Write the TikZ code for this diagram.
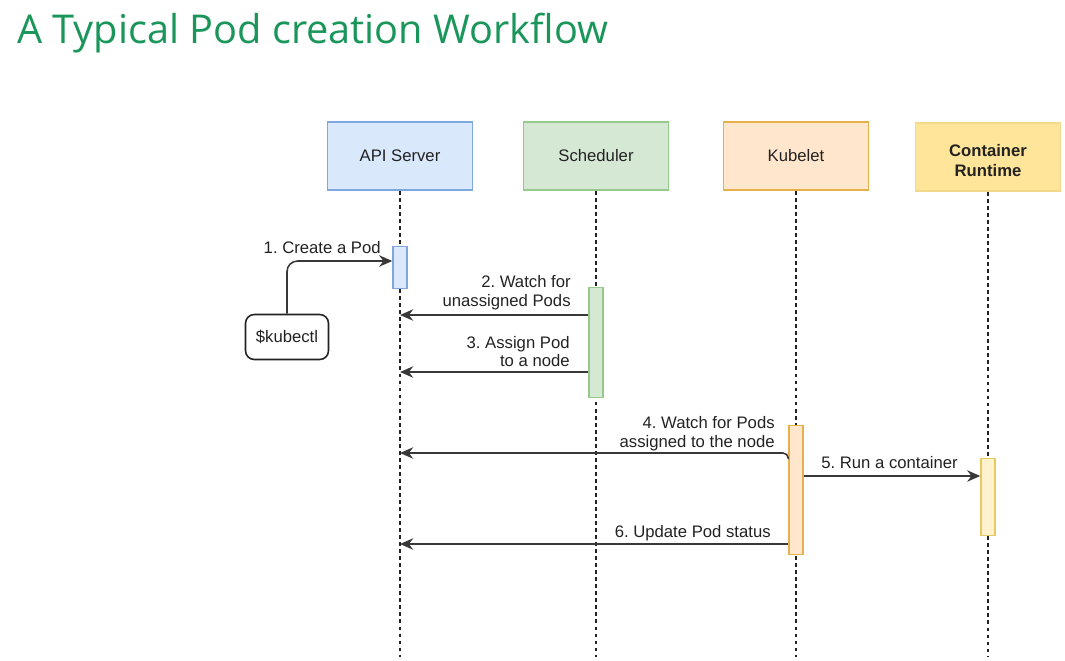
\documentclass[tikz,border=0pt]{standalone}
\usepackage{fontspec}
\setmainfont{Liberation Sans}
\newfontfamily\titlefont{Open Sans}
\usetikzlibrary{arrows.meta}
\frenchspacing

\definecolor{titlegreen}{HTML}{1A965A}
\definecolor{apifill}{HTML}{DAE8FC}
\definecolor{apiline}{HTML}{7FA7DD}
\definecolor{schedfill}{HTML}{D5E8D4}
\definecolor{schedline}{HTML}{97C98A}
\definecolor{kubefill}{HTML}{FFE6CC}
\definecolor{kubeline}{HTML}{E8B04A}
\definecolor{crifill}{HTML}{FFE599}
\definecolor{criline}{HTML}{F3D98B}
\definecolor{cribarfill}{HTML}{FFF2CC}
\definecolor{cribarline}{HTML}{E8C860}
\definecolor{ink}{HTML}{222222}

\begin{document}
\begin{tikzpicture}[x=0.02cm, y=-0.02cm, text=ink,
  actor/.style = {draw, line width=0.9pt, minimum width=2.9cm, minimum height=1.36cm, font=\fontsize{9.5}{11}\selectfont},
  bar/.style = {draw, line width=0.8pt, minimum width=0.28cm, anchor=north, inner sep=0pt},
  life/.style = {draw=ink, dash pattern=on 2.2pt off 1.8pt, line width=0.8pt},
  msg/.style = {draw=ink!90, line width=0.9pt, -{Stealth[length=7.5pt,width=6.5pt]}},
  lbl/.style = {font=\fontsize{9.5}{10.5}\selectfont, align=right, inner sep=0pt}]
\useasboundingbox (0,0) rectangle (1065,660);

\node[anchor=base west, inner sep=0pt, text=titlegreen, font=\titlefont\fontsize{22.6}{27}\selectfont] (title) at (17,43) {A Typical Pod creation Workflow};

% participants
\node[actor, fill=apifill, draw=apiline] (api) at (400,156) {API Server};
\node[actor, fill=schedfill, draw=schedline] (sched) at (596,156) {Scheduler};
\node[actor, fill=kubefill, draw=kubeline] (kube) at (796,156) {Kubelet};
\node[actor, fill=crifill, draw=criline, font=\fontsize{9.5}{11}\selectfont\bfseries] (cri) at (988,157)
  {\smash{\raisebox{-5.6pt}{\begin{tabular}{@{}c@{}}Container\\[0.4pt]Runtime\end{tabular}}}};
\node[draw=ink, rounded corners=5pt, line width=0.9pt, minimum width=1.66cm, minimum height=0.9cm, font=\fontsize{9.5}{11}\selectfont] (kubectl) at (287,337) {\$kubectl};

% lifelines
\coordinate (bottom) at (0,657);
\foreach \n in {api,sched,kube,cri}
  \draw[life] (\n.south) -- (\n.south |- bottom);

% activations
\node[bar, fill=apifill, draw=apiline, minimum height=0.84cm] (apibar) at (400,246) {};
\node[bar, fill=schedfill, draw=schedline, minimum height=2.2cm] (schedbar) at (596,287) {};
\node[bar, fill=kubefill, draw=kubeline, minimum height=2.58cm] (kubebar) at (796,425) {};
\node[bar, fill=cribarfill, draw=cribarline, minimum height=1.54cm] (cribar) at (988,458) {};

% messages
\coordinate (m1) at (0,261);
\coordinate (m2) at (0,315);
\coordinate (m3) at (0,372);
\coordinate (m4a) at (0,459);
\coordinate (m4) at (0,453);
\coordinate (m5) at (0,476);
\coordinate (m6) at (0,544);
\draw[msg, rounded corners=6pt] (kubectl.north) |- (apibar.west |- m1);
\draw[msg] (schedbar.west |- m2) -- (api |- m2);
\draw[msg] (schedbar.west |- m3) -- (api |- m3);
\draw[msg, rounded corners=3pt] (kubebar.west |- m4a) |- (api |- m4);
\draw[msg] (kubebar.east |- m5) -- (cribar.west |- m5);
\draw[msg] (kubebar.west |- m6) -- (api |- m6);

% labels
\node[lbl, anchor=base east] (l1) at (381,253) {1. Create a Pod};
\node[lbl, anchor=south east] (l2) at (571,310) {2. Watch for\\unassigned Pods};
\node[lbl, anchor=south east] (l3) at (570,367) {3. Assign Pod\\to a node};
\node[lbl, anchor=south east] (l4) at (775,451) {4. Watch for Pods\\assigned to the node};
\node[lbl, anchor=base west] (l5) at (821,468) {5. Run a container};
\node[lbl, anchor=base east] (l6) at (771,537) {6. Update Pod status};
\end{tikzpicture}
\end{document}
